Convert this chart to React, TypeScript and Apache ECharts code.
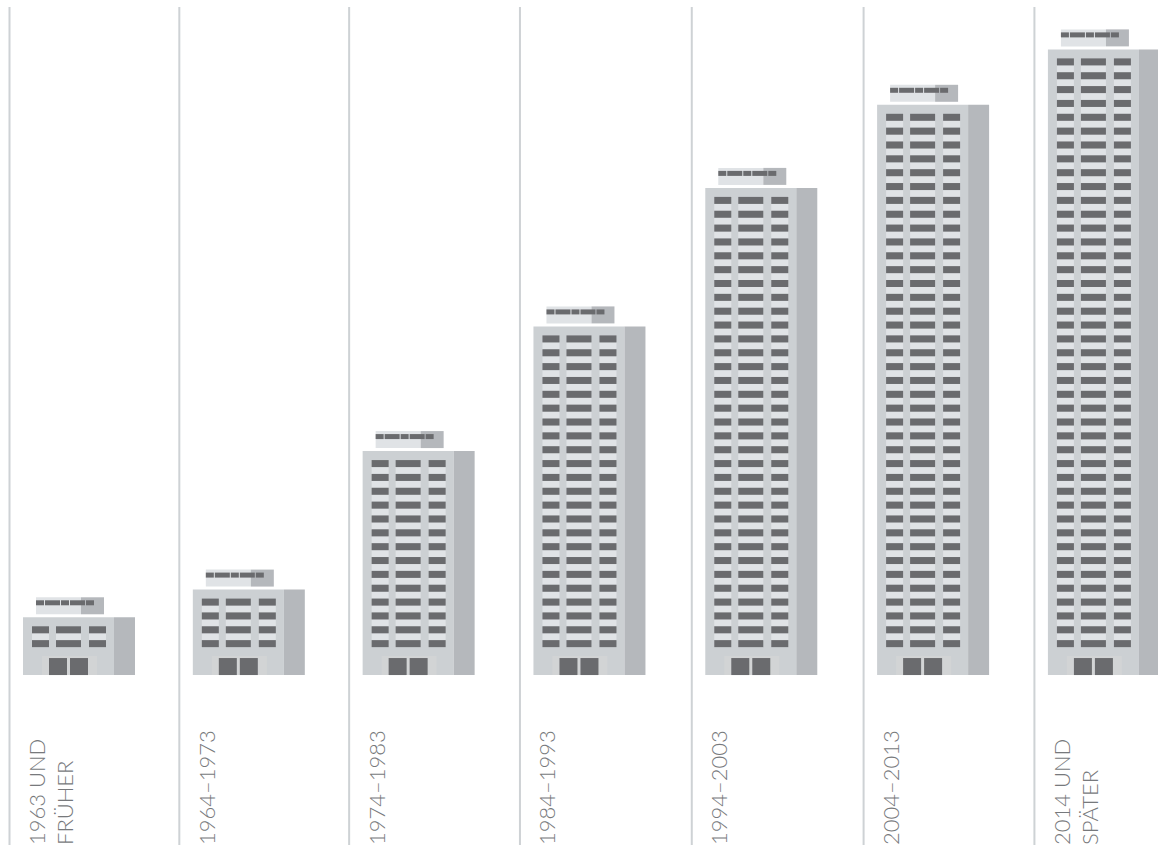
import React, { useEffect, useRef } from "react";
import * as echarts from "echarts";

const periods = ["1963 UND\nFRÜHER", "1964–1973", "1974–1983", "1984–1993", "1994–2003", "2004–2013", "2014 UND\nSPÄTER"];
const floors = [2, 4, 14, 23, 33, 39, 43];

const FACE = "#ccd0d3";
const SIDE = "#b5b8bc";
const DARK = "#6a6b6e";
const LIGHT = "#e0e3e6";
const ENTRY = "#d2d4d5";
const TEXT = "#77797c";
const RULE = "#ced2d5";

const GROUND = -1.52;
const columnShift = [0, -1, -2, -2, -1, 0, 0];
const roofSegments = [[13, 8], [22, 15], [38, 8], [47, 15], [63, 8]];
const windowCols = [[9, 17], [33, 25], [66, 17]];

function rect(x: number, y: number, width: number, height: number, fill: string) {
  return { type: "rect", shape: { x, y, width, height }, style: { fill }, silent: true };
}

function renderBuilding(params: any, api: any) {
  const idx = api.value(0);
  const n = api.value(1);
  const band = api.size([1, 0])[0];
  const center = api.coord([idx, 0])[0];
  const bandLeft = center - band / 2 + columnShift[idx];
  const left = bandLeft + 14.5;
  const ground = api.coord([idx, GROUND])[1];
  const topRow = api.coord([idx, n])[1];
  const top = topRow - 9;
  const sys = params.coordSys;
  const kids: any[] = [];
  // separator
  kids.push({
    type: "line",
    silent: true,
    shape: { x1: bandLeft + 1, y1: sys.y, x2: bandLeft + 1, y2: sys.y + sys.height },
    style: { stroke: RULE, lineWidth: 2 },
  });
  kids.push(rect(left, top, 91, ground - top, FACE));
  kids.push(rect(left + 91, top, 21, ground - top, SIDE));
  // roof
  kids.push(rect(left + 13, top - 20, 45, 17, LIGHT));
  kids.push(rect(left + 58, top - 20, 23, 17, SIDE));
  for (const [x, w] of roofSegments) kids.push(rect(left + x, top - 17, w, 5, DARK));
  // window rows
  for (let f = n; f >= 1; f--) {
    const y = api.coord([idx, f])[1];
    for (const [x, w] of windowCols) {
      if (f > 1) kids.push(rect(left + x, y + 7, w, api.coord([idx, f - 1])[1] - y - 7, LIGHT));
      kids.push(rect(left + x, y, w, 7, DARK));
    }
  }
  // entrance
  kids.push(rect(left + 19, ground - 19, 55, 19, ENTRY));
  kids.push(rect(left + 26, ground - 17, 18, 17, DARK));
  kids.push(rect(left + 47, ground - 17, 18, 17, DARK));
  // label
  kids.push({
    type: "text",
    x: bandLeft + 14,
    y: 845,
    rotation: Math.PI / 2,
    silent: true,
    style: {
      text: periods[idx],
      fill: TEXT,
      fontFamily: "Lato",
      fontWeight: 300,
      fontSize: 22,
      lineHeight: 28,
      align: "left",
      verticalAlign: "top",
    },
  });
  return { type: "group", children: kids };
}

export default function App() {
  const ref = useRef<HTMLDivElement>(null);
  useEffect(() => {
    document.body.style.margin = "0";
    const chart = echarts.init(ref.current!, undefined, { renderer: "svg" });
    chart.setOption({
      animation: false,
      backgroundColor: "#ffffff",
      grid: { left: 8.5, top: 7, width: 170.82 * 7, height: 838 },
      xAxis: {
        type: "category",
        data: periods,
        axisLine: { show: false },
        axisTick: { show: false },
        axisLabel: { show: false },
        splitLine: { show: false },
      },
      yAxis: { type: "value", show: false, min: -13.79, max: 46.71, splitLine: { show: false } },
      series: [
        {
          type: "custom",
          clip: false,
          encode: { x: 0, y: 1 },
          data: floors.map((v, i) => [i, v]),
          renderItem: renderBuilding,
        },
      ],
    });
    return () => chart.dispose();
  }, []);
  return (
    <div style={{ width: 1158, height: 848, overflow: "hidden" }}>
      <div ref={ref} style={{ width: 1240, height: 848 }} />
    </div>
  );
}
